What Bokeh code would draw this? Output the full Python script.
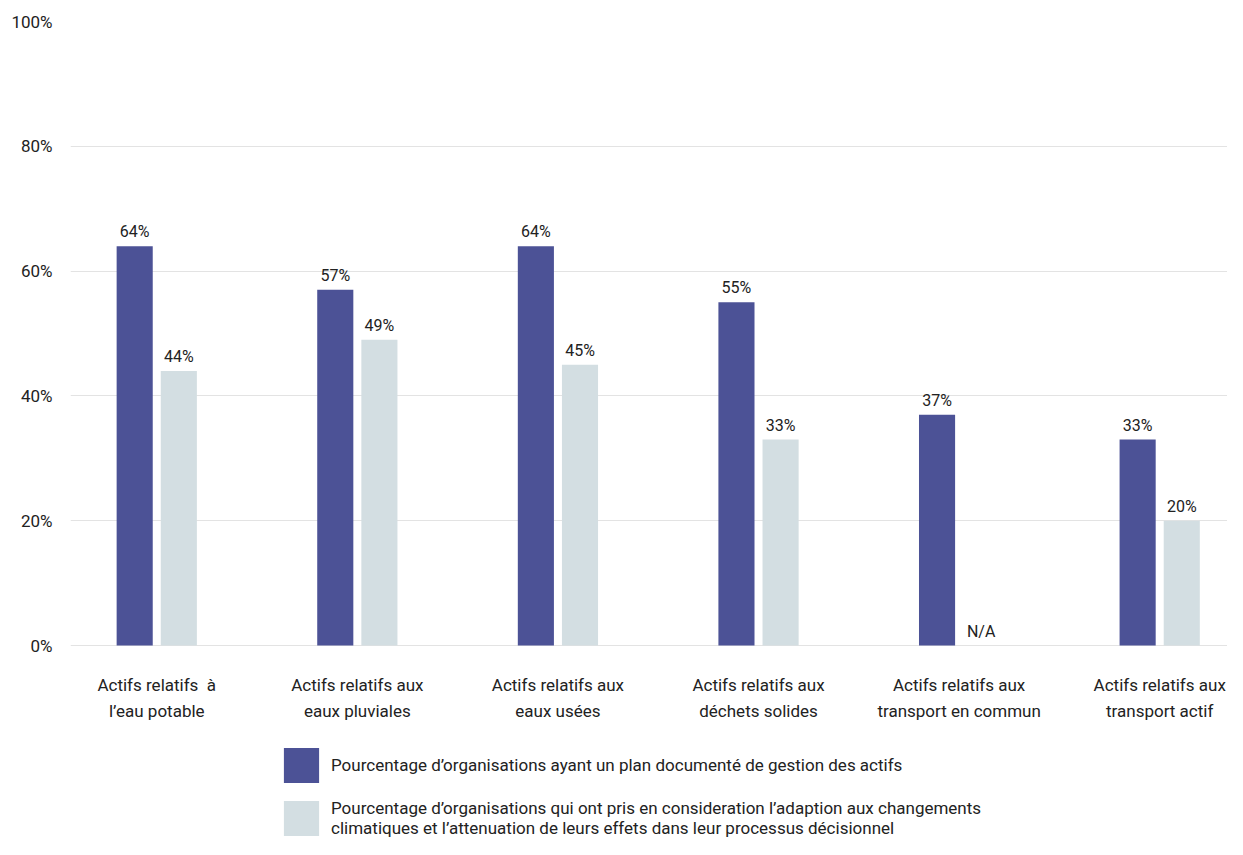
from bokeh.plotting import figure
from bokeh.models import ColumnDataSource, Range1d, FixedTicker, Legend, LegendItem
from bokeh.transform import dodge
from bokeh.core.properties import value
from bokeh.embed import file_html
from bokeh.resources import INLINE
import math

categories = [
    "Actifs relatifs \u00a0à\nl’eau potable",
    "Actifs relatifs aux\neaux pluviales",
    "Actifs relatifs aux\neaux usées",
    "Actifs relatifs aux\ndéchets solides",
    "Actifs relatifs aux\ntransport en commun",
    "Actifs relatifs aux\ntransport actif",
]
plan_documente = [64, 57, 64, 55, 37, 33]
adaptation_climat = [44, 49, 45, 33, None, 20]
y_ticks = [0, 20, 40, 60, 80, 100]
y_tick_labels = ["0%", "20%", "40%", "60%", "80%", "100%"]
series_names = [
    "Pourcentage d’organisations ayant un plan documenté de gestion des actifs",
    "Pourcentage d’organisations qui ont pris en consideration l’adaption aux changements\nclimatiques et l’attenuation de leurs effets dans leur processus décisionnel",
]

DARK = "#4c5296"
LIGHT = "#d3dee2"
FONT = "Roboto"
TXT = "#222222"

idx = list(range(len(categories)))
src = ColumnDataSource(dict(
    x=idx,
    zero=[0] * len(idx),
    cat=categories,
    a=plan_documente,
    b=[v if v is not None else math.nan for v in adaptation_climat],
    a_lbl=[f"{v}%" for v in plan_documente],
    b_y=[v if v is not None else 0 for v in adaptation_climat],
    b_lbl=[f"{v}%" if v is not None else "N/A" for v in adaptation_climat],
))

# frame extends below 0 so category labels and legend live inside it
p = figure(frame_width=1157, frame_height=830, output_backend="svg", toolbar_location=None,
           x_range=Range1d(-0.430, 5.338), y_range=Range1d(-33.0, 100),
           min_border_left=70, min_border_right=0, min_border_top=21, min_border_bottom=0)
p.outline_line_color = None
p.background_fill_color = "white"
p.border_fill_color = "white"

r1 = p.vbar(x=dodge("x", -0.11, range=p.x_range), top="a", width=0.18, source=src,
            fill_color=DARK, line_color=None)
r2 = p.vbar(x=dodge("x", 0.11, range=p.x_range), top="b", width=0.18, source=src,
            fill_color=LIGHT, line_color=None)

p.text(x=dodge("x", -0.11, range=p.x_range), y="a", text="a_lbl", source=src,
       text_font=value(FONT), text_font_size="16px", text_color=TXT,
       text_align="center", text_baseline="bottom", y_offset=-5)
p.text(x=dodge("x", 0.11, range=p.x_range), y="b_y", text="b_lbl", source=src,
       text_font=value(FONT), text_font_size="16px", text_color=TXT,
       text_align="center", text_baseline="bottom", y_offset=-5)

# category labels (two lines) under each group
p.text(x="x", y="zero", text="cat", source=src,
       text_font=value(FONT), text_font_size="17px", text_color=TXT,
       text_align="center", text_baseline="top", y_offset=29, text_line_height=1.3)

p.xaxis.visible = False
p.xgrid.grid_line_color = None

p.yaxis.ticker = FixedTicker(ticks=y_ticks)
p.yaxis.major_label_overrides = {t: l for t, l in zip(y_ticks, y_tick_labels)}
p.yaxis.axis_line_color = None
p.yaxis.major_tick_line_color = None
p.yaxis.minor_tick_line_color = None
p.yaxis.major_tick_out = 0
p.yaxis.major_label_text_font = FONT
p.yaxis.major_label_text_font_size = "17px"
p.yaxis.major_label_text_color = TXT
p.yaxis.major_label_standoff = 18

p.ygrid.grid_line_color = "#e3e3e3"
p.ygrid.grid_line_width = 1

legend = Legend(items=[LegendItem(label=series_names[0], renderers=[r1]),
                       LegendItem(label=series_names[1], renderers=[r2])],
                location=(209, 11), orientation="vertical",
                glyph_width=44, glyph_height=44, label_standoff=8, spacing=9,
                padding=0, margin=0, border_line_color=None, background_fill_alpha=0,
                label_text_font=FONT, label_text_font_size="17px", label_text_color=TXT,
                label_height=44)
p.add_layout(legend, "center")

open("out.html", "w").write(file_html(p, INLINE))
